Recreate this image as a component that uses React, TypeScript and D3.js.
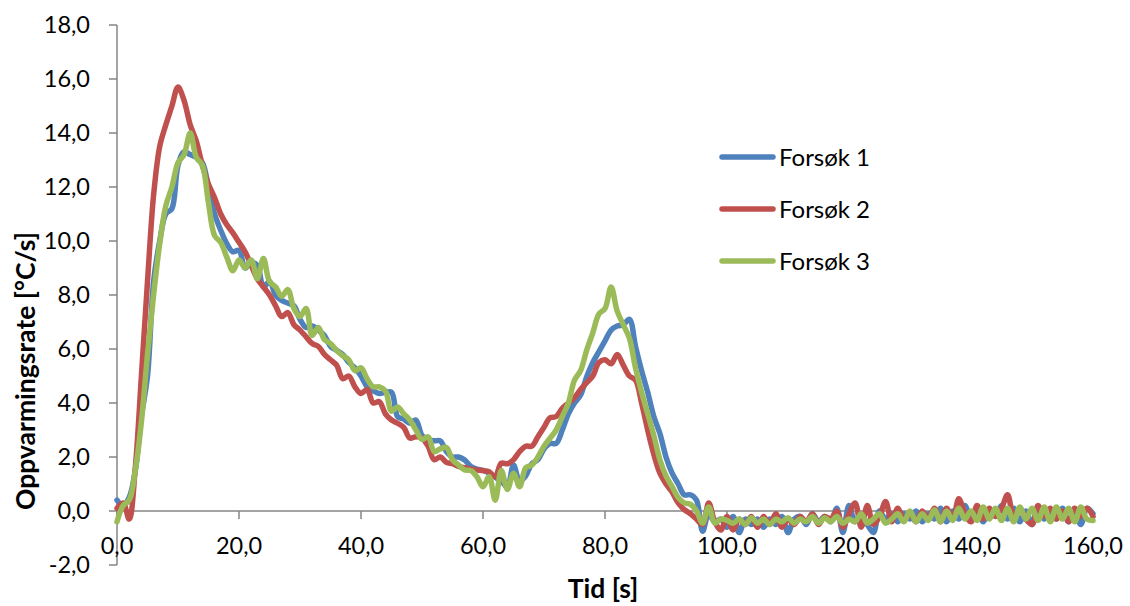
import React from 'react';
import * as d3 from 'd3';

// Time stamps (s), one per sample
const times: number[] = d3.range(0, 161, 1);

const forsok1: number[] = [
  0.4, 0.2, 0.5, 1.5, 3.5, 5.0, 8.5, 10.0, 11.0, 11.2,
  12.8, 13.3, 13.2, 13.1, 12.9, 12.0, 11.0, 10.4, 9.9, 9.6,
  9.65, 9.0, 9.2, 9.1, 8.3, 8.5, 8.0, 7.8, 7.7, 7.6,
  7.1, 6.8, 6.85, 6.7, 6.5, 6.1, 5.95, 5.8, 5.5, 5.3,
  5.0, 4.6, 4.45, 4.35, 4.4, 4.4, 3.5, 3.4, 3.25, 3.37,
  2.8, 2.65, 2.6, 2.6, 2.2, 2.0, 2.0, 1.89, 1.65, 1.55,
  1.5, 1.4, 1.25, 1.1, 0.9, 1.7, 1.1, 1.3, 1.75, 1.9,
  2.3, 2.5, 2.5, 3.0, 3.6, 4.0, 4.3, 4.97, 5.5, 5.9,
  6.3, 6.7, 6.85, 6.9, 7.1, 6.1, 5.2, 4.4, 3.5, 2.87,
  2.0, 1.4, 1.0, 0.6, 0.6, 0.4, -0.75, -0.1, -0.4, -0.3,
  -0.6, -0.2, -0.8, -0.3, -0.5, -0.3, -0.6, -0.3, -0.5, -0.2,
  -0.8, -0.3, -0.2, -0.5, -0.1, -0.4, -0.2, -0.4, 0.1, -0.8,
  0.2, -0.4, -0.1, -0.5, -0.8, 0.0, -0.3, -0.1, -0.4, -0.1,
  -0.3, 0.0, -0.4, -0.1, -0.3, 0.1, -0.4, 0.0, -0.3, 0.2,
  -0.3, 0.1, -0.4, 0.0, -0.2, 0.2, -0.3, 0.1, -0.4, 0.0,
  -0.5, 0.1, -0.3, 0.0, -0.3, 0.1, -0.4, 0.0, -0.5, 0.1,
  -0.1,
];

const forsok2: number[] = [
  0.1, 0.3, -0.3, 1.6, 5.0, 8.5, 11.7, 13.5, 14.3, 15.0,
  15.7, 15.2, 14.3, 13.7, 12.8, 12.1, 11.6, 11.0, 10.6, 10.3,
  9.95, 9.6, 9.1, 8.6, 8.3, 8.0, 7.6, 7.2, 7.35, 6.9,
  6.7, 6.45, 6.2, 6.1, 5.8, 5.6, 5.4, 4.9, 5.0, 4.6,
  4.35, 4.5, 4.0, 4.05, 3.6, 3.37, 3.25, 3.1, 2.7, 2.75,
  2.7, 2.4, 1.9, 2.0, 1.8, 1.75, 1.65, 1.6, 1.55, 1.52,
  1.5, 1.45, 1.27, 1.77, 1.75, 1.9, 2.2, 2.4, 2.4, 2.75,
  3.1, 3.45, 3.5, 3.8, 4.0, 4.2, 4.5, 4.75, 5.0, 5.5,
  5.6, 5.45, 5.8, 5.4, 5.0, 4.85, 4.0, 3.0, 2.1, 1.4,
  1.0, 0.7, 0.3, 0.05, -0.1, -0.3, -0.5, 0.3, -0.4, -0.7,
  -0.2, -0.7, -0.3, -0.5, -0.2, -0.6, -0.2, -0.5, -0.1, -0.6,
  -0.3, -0.5, -0.2, -0.4, -0.1, -0.5, -0.2, -0.3, 0.0, -0.6,
  -0.1, 0.3, -0.6, 0.2, -0.5, -0.2, 0.35, -0.4, 0.1, -0.3,
  -0.1, -0.4, 0.0, -0.3, 0.1, -0.4, 0.1, -0.3, 0.45, -0.1,
  -0.4, 0.2, -0.3, 0.1, -0.2, 0.1, 0.6, -0.2, 0.1, -0.3,
  -0.5, 0.2, -0.2, 0.1, -0.3, 0.0, -0.4, 0.1, -0.2, 0.1,
  -0.2,
];

const forsok3: number[] = [
  -0.4, 0.2, 0.4, 1.5, 3.3, 5.8, 8.0, 9.9, 11.3, 12.0,
  12.9, 13.2, 14.0, 13.1, 12.8, 11.4, 10.2, 9.95, 9.4, 8.9,
  9.3, 9.0, 9.3, 8.6, 9.35, 8.5, 8.3, 7.95, 8.2, 7.5,
  7.2, 7.5, 6.5, 6.8, 6.35, 6.2, 5.95, 5.75, 5.6, 5.2,
  5.3, 4.9, 4.6, 4.6, 4.45, 3.7, 3.85, 3.6, 3.37, 3.0,
  2.65, 2.75, 2.2, 2.3, 2.35, 1.9, 1.7, 1.52, 1.5, 1.27,
  0.9, 1.27, 0.4, 1.5, 0.8, 1.4, 0.9, 1.6, 1.7, 2.0,
  2.4, 2.7, 3.0, 3.5, 4.0, 4.85, 5.2, 5.96, 6.6, 7.3,
  7.5, 8.3, 7.4, 6.9, 6.4, 5.3, 4.4, 3.6, 2.8, 1.9,
  1.3, 0.9, 0.5, 0.3, 0.25, 0.0, -0.45, 0.15, -0.45, -0.3,
  -0.35, -0.45, -0.3, -0.5, -0.25, -0.45, -0.3, -0.5, -0.3, -0.4,
  -0.25, -0.45, -0.3, -0.4, -0.2, -0.45, -0.25, -0.4, -0.2, -0.45,
  -0.3, -0.4, -0.1, -0.45, -0.3, -0.1, -0.45, -0.3, -0.1, -0.4,
  0.0, -0.4, -0.1, -0.35, 0.05, -0.4, 0.0, -0.35, 0.1, -0.3,
  0.0, -0.35, 0.15, -0.3, 0.1, -0.35, 0.1, -0.4, 0.15, -0.3,
  0.1, -0.35, 0.15, -0.4, 0.15, -0.3, 0.1, -0.4, 0.15, -0.3,
  -0.35,
];

const seriesNames: string[] = ['Forsøk 1', 'Forsøk 2', 'Forsøk 3'];
const seriesColors: string[] = ['#4F81BD', '#C0504D', '#9BBB59'];
const xTicks: number[] = [0, 20, 40, 60, 80, 100, 120, 140, 160];
const yTicks: number[] = [-2, 0, 2, 4, 6, 8, 10, 12, 14, 16, 18];
const xTitle = 'Tid [s]';
const yTitle = 'Oppvarmingsrate [°C/s]';

const FONT = 'Lato, "Open Sans", sans-serif';
const AXIS = '#868686';

const fmt = (v: number) => d3.format('.1f')(v).replace('.', ',').replace('−', '-');

export default function App() {
  const x = d3.scaleLinear().domain([0, 160]).range([117, 1093]);
  const y = d3.scaleLinear().domain([-2, 18]).range([565, 25]);
  const allSeries = [forsok1, forsok2, forsok3];
  const line = d3
    .line<number>()
    .x((_, i) => x(times[i]))
    .y((d) => y(d))
    .curve(d3.curveCatmullRom.alpha(0.5));

  return (
    <svg
      width={1130}
      height={606}
      style={{ position: 'absolute', left: 0, top: 0, background: '#fff' }}
      fontFamily={FONT}
    >
      <rect x={0} y={0} width={1130} height={606} fill="#fff" />
      {/* Y axis */}
      <line x1={x(0)} x2={x(0)} y1={y(18)} y2={y(-2)} stroke={AXIS} strokeWidth={1.5} />
      {yTicks.map((t) => (
        <g key={'yt' + t}>
          <line x1={x(0) - 8} x2={x(0)} y1={y(t)} y2={y(t)} stroke={AXIS} strokeWidth={1.5} />
          <text x={90} y={y(t)} dy="0.36em" textAnchor="end" fontSize={23.5} fill="#000">
            {fmt(t)}
          </text>
        </g>
      ))}
      {/* X axis at zero */}
      <line x1={x(0)} x2={x(160)} y1={y(0)} y2={y(0)} stroke={AXIS} strokeWidth={1.5} />
      {xTicks.map((t) => (
        <g key={'xt' + t}>
          <line x1={x(t)} x2={x(t)} y1={y(0)} y2={y(0) + 8} stroke={AXIS} strokeWidth={1.5} />
          <text x={x(t)} y={546} dy="0.36em" textAnchor="middle" fontSize={23.5} fill="#000">
            {fmt(t)}
          </text>
        </g>
      ))}
      {/* Series */}
      {allSeries.map((s, i) => (
        <path
          key={'s' + i}
          d={line(s) || ''}
          fill="none"
          stroke={seriesColors[i]}
          strokeWidth={5.5}
          strokeLinejoin="round"
          strokeLinecap="round"
        />
      ))}
      {/* Titles */}
      <text
        transform="translate(35,371) rotate(-90)"
        textAnchor="middle"
        fontSize={26.5}
        fontWeight="bold"
        fill="#000"
      >
        {yTitle}
      </text>
      <text x={603} y={588} dy="0.36em" textAnchor="middle" fontSize={26.5} fontWeight="bold" fill="#000">
        {xTitle}
      </text>
      {/* Legend */}
      {seriesNames.map((n, i) => {
        const ly = 157 + i * 52;
        return (
          <g key={'lg' + i}>
            <line x1={722} x2={773} y1={ly} y2={ly} stroke={seriesColors[i]} strokeWidth={5.5} strokeLinecap="round" />
            <text x={779} y={ly} dy="0.36em" fontSize={24} fill="#000">
              {n}
            </text>
          </g>
        );
      })}
    </svg>
  );
}
